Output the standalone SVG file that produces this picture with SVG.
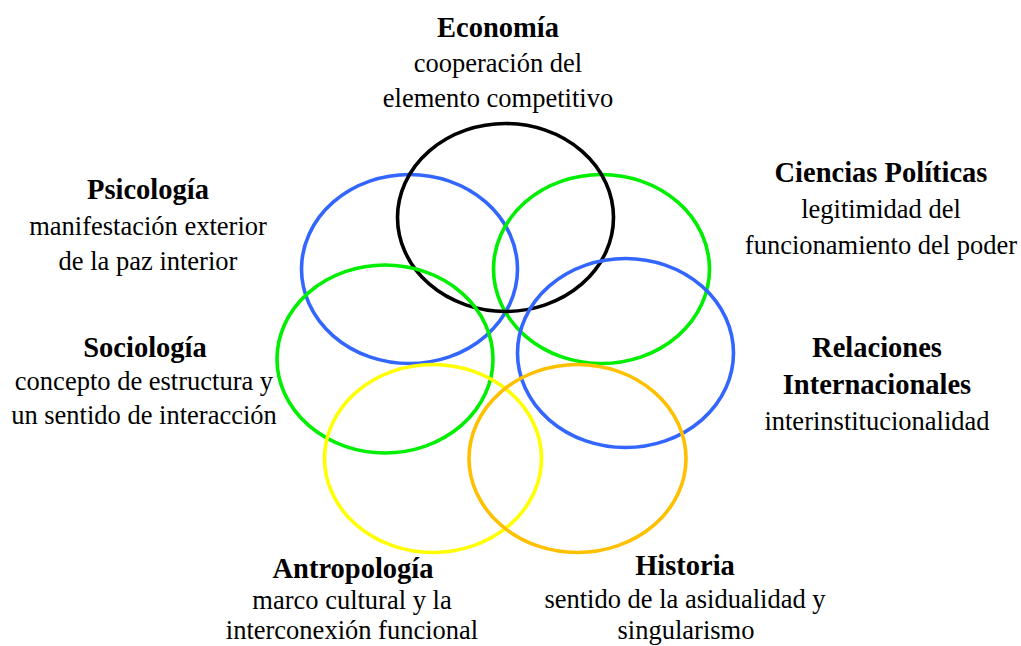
<svg xmlns="http://www.w3.org/2000/svg" width="1021" height="646" viewBox="0 0 1021 646">
<style>
  .ring { fill: none; stroke-width: 3.6; }
  .t { font-family: "Liberation Serif", "Times New Roman", serif; font-weight: bold; font-size: 28.5px; fill: #000; text-anchor: middle; }
  .s { font-family: "Liberation Serif", "Times New Roman", serif; font-size: 26.5px; fill: #000; text-anchor: middle; }
</style>
<rect width="1021" height="646" fill="#fff"/>
<g id="psicologia">
  <ellipse class="ring" cx="409.5" cy="269" rx="108" ry="94.5" stroke="#3366FF"/>
  <text class="t" x="148" y="199">Psicología</text>
  <text class="s" x="148" y="235">manifestación exterior</text>
  <text class="s" x="148" y="270">de la paz interior</text>
</g>
<g id="ciencias-politicas">
  <ellipse class="ring" cx="601.5" cy="269" rx="108" ry="94.5" stroke="#00EE00"/>
  <text class="t" x="881" y="182">Ciencias Políticas</text>
  <text class="s" x="881" y="218">legitimidad del</text>
  <text class="s" x="881" y="254">funcionamiento del poder</text>
</g>
<g id="economia">
  <ellipse class="ring" cx="505.5" cy="217.5" rx="108" ry="94" stroke="#000"/>
  <text class="t" x="498" y="37">Economía</text>
  <text class="s" x="498" y="72">cooperación del</text>
  <text class="s" x="498" y="107">elemento competitivo</text>
</g>
<g id="sociologia">
  <ellipse class="ring" cx="385" cy="359" rx="108" ry="94" stroke="#00EE00"/>
  <text class="t" x="145" y="357">Sociología</text>
  <text class="s" x="144" y="390">concepto de estructura y</text>
  <text class="s" x="144" y="424">un sentido de interacción</text>
</g>
<g id="relaciones-internacionales">
  <ellipse class="ring" cx="625.5" cy="353" rx="108" ry="94.5" stroke="#3366FF"/>
  <text class="t" x="877" y="357">Relaciones</text>
  <text class="t" x="877" y="394">Internacionales</text>
  <text class="s" x="877" y="430">interinstitucionalidad</text>
</g>
<g id="antropologia">
  <ellipse class="ring" cx="433" cy="458.5" rx="108.5" ry="94" stroke="#FFFF00"/>
  <text class="t" x="353" y="578">Antropología</text>
  <text class="s" x="352" y="609">marco cultural y la</text>
  <text class="s" x="352" y="639">interconexión funcional</text>
</g>
<g id="historia">
  <ellipse class="ring" cx="577.5" cy="458.5" rx="108.5" ry="94" stroke="#FFC000"/>
  <text class="t" x="685" y="575">Historia</text>
  <text class="s" x="685" y="608">sentido de la asidualidad y</text>
  <text class="s" x="686" y="639">singularismo</text>
</g>
<g id="connectors"></g>
</svg>
